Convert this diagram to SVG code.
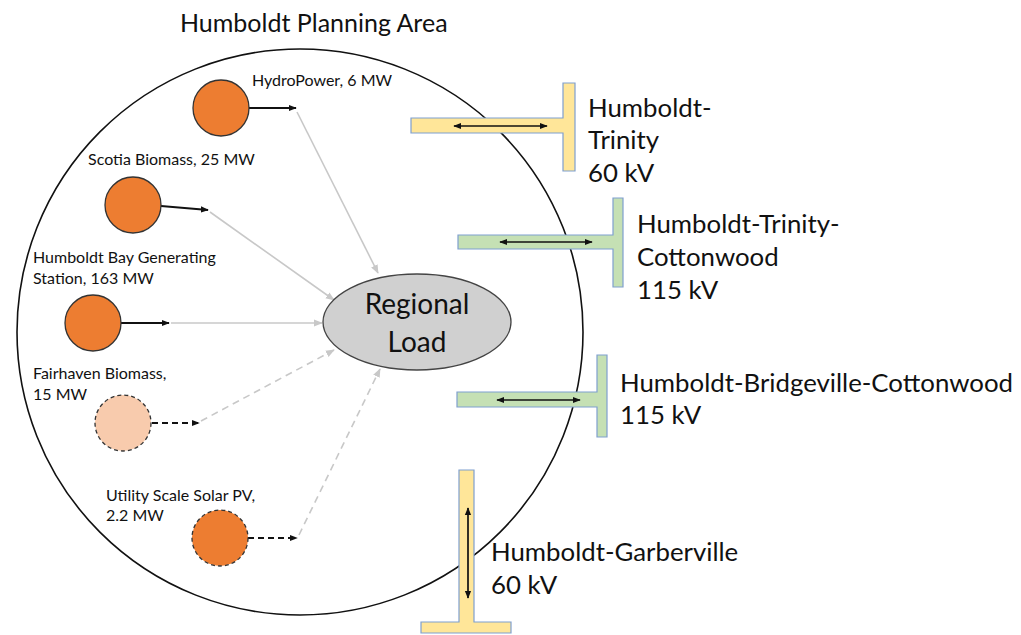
<svg xmlns="http://www.w3.org/2000/svg" width="1021" height="635" viewBox="0 0 1021 635">
<style>
.lbl{font-family:Lato,"Liberation Sans",sans-serif;fill:#111}
.big{font-size:25.8px}
.sm{font-size:16px}
.gen{fill:#ed7d31;stroke:#333;stroke-width:1.3}
.genL{fill:#f8cbad;stroke:#333;stroke-width:1.3;stroke-dasharray:4 3}
.genD{fill:#ed7d31;stroke:#333;stroke-width:1.3;stroke-dasharray:4 3}
.ka{stroke:#111;stroke-width:1.8;fill:none;marker-end:url(#ab)}
.kd{stroke:#111;stroke-width:1.8;fill:none;stroke-dasharray:6 4;marker-end:url(#ab)}
.ga{stroke:#c8c8c8;stroke-width:1.6;fill:none;marker-end:url(#ag)}
.gd{stroke:#c8c8c8;stroke-width:1.6;fill:none;stroke-dasharray:7 5;marker-end:url(#ag)}
.ty{fill:#ffe699;stroke:#7f9fcf;stroke-width:1.2}
.tg{fill:#c5e0b4;stroke:#7f9fcf;stroke-width:1.2}
.da{stroke:#111;stroke-width:1.7;fill:none;marker-start:url(#as);marker-end:url(#ab)}
</style>
<defs>
<marker id="ab" viewBox="0 0 10 10" refX="9" refY="5" markerWidth="8" markerHeight="8" orient="auto" markerUnits="userSpaceOnUse"><path d="M0,1 L10,5 L0,9 Z" fill="#111"/></marker>
<marker id="as" viewBox="0 0 10 10" refX="1" refY="5" markerWidth="8" markerHeight="8" orient="auto" markerUnits="userSpaceOnUse"><path d="M10,1 L0,5 L10,9 Z" fill="#111"/></marker>
<marker id="ag" viewBox="0 0 10 10" refX="9" refY="5" markerWidth="9" markerHeight="9" orient="auto" markerUnits="userSpaceOnUse"><path d="M0,1 L10,5 L0,9 Z" fill="#c8c8c8"/></marker>
</defs>
<rect width="1021" height="635" fill="#fff"/>
<text class="lbl" x="180" y="32" font-size="25">Humboldt Planning Area</text>
<g id="planning-area"><circle cx="300" cy="332" r="283" fill="none" stroke="#111" stroke-width="1.6"/></g>

<g id="connectors">
<line class="ka" x1="249" y1="108" x2="296" y2="108"/>
<line class="ka" x1="161" y1="206" x2="208" y2="210"/>
<line class="ka" x1="121" y1="323" x2="169" y2="323"/>
<line class="kd" x1="152" y1="423" x2="199" y2="423"/>
<line class="kd" x1="248" y1="538" x2="297" y2="538"/>
<line class="ga" x1="297" y1="112" x2="378" y2="273"/>
<line class="ga" x1="210" y1="212" x2="334" y2="300"/>
<line class="ga" x1="171" y1="323" x2="322" y2="323"/>
<line class="gd" x1="201" y1="421" x2="334" y2="350"/>
<line class="gd" x1="299" y1="535" x2="380" y2="369"/>
</g>

<g id="regional-load">
<ellipse cx="417" cy="322" rx="94" ry="48" fill="#d0d0d0" stroke="#444" stroke-width="1.3"/>
<text class="lbl" x="417" y="314" font-size="28" text-anchor="middle">Regional</text>
<text class="lbl" x="417" y="352" font-size="28" text-anchor="middle">Load</text>
</g>

<g id="hydropower">
<circle class="gen" cx="221" cy="108" r="28"/>
<text class="lbl sm" x="252" y="86">HydroPower, 6 MW</text>
</g>
<g id="scotia-biomass">
<circle class="gen" cx="133" cy="205" r="28"/>
<text class="lbl sm" x="88" y="165">Scotia Biomass, 25 MW</text>
</g>
<g id="humboldt-bay">
<circle class="gen" cx="93" cy="323" r="28"/>
<text class="lbl sm" x="33" y="263">Humboldt Bay Generating</text>
<text class="lbl sm" x="33" y="284">Station, 163 MW</text>
</g>
<g id="fairhaven-biomass">
<circle class="genL" cx="123" cy="423" r="28"/>
<text class="lbl sm" x="33" y="379">Fairhaven Biomass,</text>
<text class="lbl sm" x="33" y="400">15 MW</text>
</g>
<g id="solar-pv">
<circle class="genD" cx="220" cy="538" r="28"/>
<text class="lbl sm" x="106" y="501">Utility Scale Solar PV,</text>
<text class="lbl sm" x="106" y="521">2.2 MW</text>
</g>

<g id="humboldt-trinity">
<path class="ty" d="M411,118 H563 V83 H575 V171 H563 V133 H411 Z"/>
<line class="da" x1="454" y1="126" x2="547" y2="126"/>
<text class="lbl big" x="588" y="117">Humboldt-</text>
<text class="lbl big" x="588" y="149">Trinity</text>
<text class="lbl big" x="588" y="182">60 kV</text>
</g>
<g id="humboldt-trinity-cottonwood">
<path class="tg" d="M458,235 H613 V198 H623 V287 H613 V249 H458 Z"/>
<line class="da" x1="500" y1="242" x2="592" y2="242"/>
<text class="lbl big" x="637" y="233">Humboldt-Trinity-</text>
<text class="lbl big" x="637" y="266">Cottonwood</text>
<text class="lbl big" x="637" y="299">115 kV</text>
</g>
<g id="humboldt-bridgeville-cottonwood">
<path class="tg" d="M457,392 H597 V355 H607 V437 H597 V407 H457 Z"/>
<line class="da" x1="497" y1="400" x2="580" y2="400"/>
<text class="lbl big" x="620" y="392">Humboldt-Bridgeville-Cottonwood</text>
<text class="lbl big" x="620" y="424">115 kV</text>
</g>
<g id="humboldt-garberville">
<path class="ty" d="M459,470 H474 V622 H511 V633 H421 V622 H459 Z"/>
<line class="da" x1="468" y1="508" x2="468" y2="598"/>
<text class="lbl big" x="491" y="561">Humboldt-Garberville</text>
<text class="lbl big" x="491" y="594">60 kV</text>
</g>
</svg>
